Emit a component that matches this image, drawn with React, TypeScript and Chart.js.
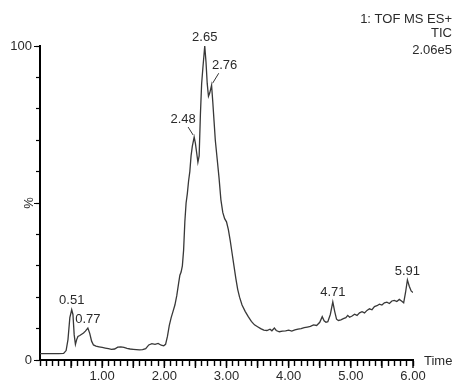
import React, { useEffect, useRef } from "react";
import { Chart, registerables } from "chart.js";

Chart.register(...registerables);

// Retention time (min) of each sample along the chromatogram trace
const retentionTimes = [
  0.0, 0.1, 0.2, 0.3, 0.38, 0.42, 0.45, 0.48, 0.51, 0.53, 0.55, 0.57, 0.59, 0.61, 0.64,
  0.67, 0.7, 0.73, 0.77, 0.8, 0.83, 0.86, 0.9, 0.95, 1.0, 1.05, 1.1, 1.15, 1.2, 1.25,
  1.3, 1.35, 1.4, 1.45, 1.5, 1.55, 1.6, 1.65, 1.7, 1.75, 1.8, 1.85, 1.9, 1.95, 1.99,
  2.02, 2.05, 2.08, 2.11, 2.14, 2.17, 2.2, 2.23, 2.25, 2.27, 2.29, 2.31, 2.33, 2.35, 2.37,
  2.39, 2.41, 2.43, 2.45, 2.48, 2.5, 2.52, 2.54, 2.56, 2.58, 2.6, 2.62, 2.65, 2.67, 2.69,
  2.71, 2.73, 2.76, 2.78, 2.8, 2.82, 2.85, 2.88, 2.91, 2.94, 2.97, 3.0, 3.03, 3.06, 3.09,
  3.12, 3.15, 3.18, 3.21, 3.25, 3.3, 3.35, 3.4, 3.45, 3.5, 3.55, 3.6, 3.65, 3.7, 3.73,
  3.77, 3.8, 3.85, 3.9, 3.95, 4.0, 4.05, 4.1, 4.15, 4.2, 4.25, 4.3, 4.35, 4.4, 4.45,
  4.5, 4.54, 4.57, 4.6, 4.63, 4.67, 4.71, 4.74, 4.77, 4.8, 4.84, 4.88, 4.92, 4.95, 4.98,
  5.02, 5.06, 5.1, 5.14, 5.18, 5.22, 5.26, 5.3, 5.34, 5.38, 5.42, 5.46, 5.5, 5.54, 5.58,
  5.62, 5.66, 5.7, 5.74, 5.78, 5.82, 5.85, 5.88, 5.91, 5.94, 5.97, 6.0,
];

// Relative TIC intensity (%) at each retention time
const intensities = [
  2.0, 2.0, 2.0, 2.0, 2.1, 3.0, 6.5, 13.5, 16.0, 14.5, 8.0, 5.0, 6.5, 7.5, 7.8,
  8.2, 8.6, 9.2, 10.2, 8.5, 6.0, 4.8, 4.4, 4.2, 4.0, 3.8, 3.6, 3.4, 3.5, 4.1,
  4.2, 4.0, 3.7, 3.5, 3.4, 3.3, 3.2, 3.3, 3.6, 4.8, 5.2, 5.0, 5.3, 4.7, 4.5,
  5.0, 7.5, 11.0, 13.5, 15.5, 17.5, 20.5, 24.5, 27.0, 28.0, 30.0, 35.0, 44.0, 50.0, 53.0,
  57.0, 60.0, 65.0, 68.0, 71.0, 69.0, 66.0, 63.0, 65.0, 78.0, 88.0, 93.0, 100.0, 95.0, 88.0,
  84.0, 85.0, 87.5, 82.0, 76.0, 70.0, 64.0, 58.0, 51.0, 47.0, 45.0, 44.0, 41.5, 38.0, 34.0,
  30.0, 26.0, 22.5, 20.0, 17.5, 15.5, 13.8, 12.3, 11.2, 10.6, 10.0, 9.5, 9.4, 9.8, 9.3,
  10.2, 9.4, 9.0, 9.2, 9.3, 9.5, 9.2, 9.6, 9.8, 10.0, 10.3, 10.5, 10.7, 11.2, 11.0,
  12.0, 13.8, 12.5, 12.0, 12.2, 14.5, 18.5, 15.5, 13.0, 12.6, 12.8, 13.2, 13.5, 14.2, 13.6,
  14.0, 14.6, 14.2, 15.0, 15.4, 15.0, 15.8, 16.3, 16.0, 17.0, 17.3, 17.8, 17.5, 18.2, 18.4,
  18.0, 18.8, 19.0, 18.6, 19.3, 18.7, 18.2, 21.5, 25.5, 23.5, 22.0, 21.5,
];

// Labelled peak apexes (retention time, min)
const peakTimes = [0.51, 0.77, 2.48, 2.65, 2.76, 4.71, 5.91];

// Axis values that carry a text label
const xLabelValues = [1, 2, 3, 4, 5, 6];
const yLabelValues = [0, 100];

const headerLines = ["1: TOF MS ES+", "TIC", "2.06e5"];
const xAxisName = "Time";
const yAxisName = "%";

const FONT = "Arial, 'Liberation Sans', sans-serif";
const TEXT_COLOR = "#2a2a2a";
const AXIS_COLOR = "#000";

// Peak labels sit just above the apex; crowded ones are moved aside with a leader line
const labelNudge: Record<string, [number, number]> = {
  "2.48": [-11, -18],
  "2.76": [13, -20],
};

const near = (a: number, b: number) => Math.abs(a - b) < 1e-6;

const decorPlugin = {
  id: "msDecor",
  afterDraw(chart: any) {
    const { ctx, chartArea, scales } = chart;
    const xs = scales.x;
    const ys = scales.y;
    const bottom = Math.round(chartArea.bottom);
    const left = Math.round(chartArea.left);

    // half-minute ticks run a little longer than the 0.1 min ones
    ctx.save();
    ctx.fillStyle = AXIS_COLOR;
    xs.ticks.forEach((t: any) => {
      const v = Number(t.value);
      if (v <= 0 || !near(v * 2, Math.round(v * 2))) return;
      const px = xs.getPixelForValue(v);
      ctx.fillRect(px - 0.7, bottom, 1.4, 8);
    });
    // 0 % and 50 % ticks reach further left
    [0, 50, 100].forEach((v) => {
      const py = Math.round(ys.getPixelForValue(v));
      ctx.fillRect(left - 6, py, 6, 1);
    });
    ctx.restore();

    ctx.save();
    ctx.fillStyle = TEXT_COLOR;
    ctx.font = `13px ${FONT}`;

    // axis names
    ctx.textAlign = "left";
    ctx.textBaseline = "middle";
    ctx.fillText(xAxisName, chartArea.right + 11, chartArea.bottom + 1);
    ctx.save();
    ctx.translate(chartArea.left - 11, ys.getPixelForValue(50));
    ctx.rotate(-Math.PI / 2);
    ctx.textAlign = "center";
    ctx.fillText(yAxisName, 0, 0);
    ctx.restore();

    // acquisition header, top right
    ctx.textAlign = "right";
    const headerY = [19, 33, 50];
    headerLines.forEach((line, i) => ctx.fillText(line, chart.width - 2, headerY[i]));

    // peak retention-time labels
    ctx.textAlign = "center";
    ctx.strokeStyle = "#333";
    ctx.lineWidth = 1;
    peakTimes.forEach((t) => {
      const idx = retentionTimes.findIndex((r) => near(r, t));
      if (idx < 0) return;
      const px = xs.getPixelForValue(t);
      const py = ys.getPixelForValue(intensities[idx]);
      const key = t.toFixed(2);
      const nudge = labelNudge[key];
      const [dx, dy] = nudge || [0, -9];
      ctx.fillText(key, px + dx, py + dy);
      if (nudge) {
        const sx = px + dx * 0.55;
        const sy = py + dy + 8;
        ctx.beginPath();
        ctx.moveTo(sx, sy);
        ctx.lineTo(px + Math.sign(dx) * 1, py - 2);
        ctx.stroke();
      }
    });

    ctx.restore();
  },
};

export default function App() {
  const canvasRef = useRef<HTMLCanvasElement | null>(null);

  useEffect(() => {
    if (!canvasRef.current) return;
    const points = retentionTimes.map((t, i) => ({ x: t, y: intensities[i] }));
    const chart = new Chart(canvasRef.current, {
      type: "line",
      data: {
        datasets: [
          {
            data: points,
            borderColor: "#383838",
            borderWidth: 1.3,
            pointRadius: 0,
            tension: 0,
            fill: false,
          },
        ],
      },
      options: {
        animation: false,
        responsive: false,
        devicePixelRatio: 1,
        layout: { padding: { left: 8, right: 41, top: 46, bottom: 0 } },
        plugins: {
          legend: { display: false },
          tooltip: { enabled: false },
        },
        scales: {
          x: {
            type: "linear",
            min: 0,
            max: 6,
            afterFit: (s: any) => {
              s.height = 25;
            },
            ticks: {
              stepSize: 0.1,
              autoSkip: false,
              maxRotation: 0,
              padding: 3,
              color: TEXT_COLOR,
              font: { family: FONT, size: 13 },
              callback: (v: any) => {
                const n = Number(v);
                return xLabelValues.some((l) => near(l, n)) ? n.toFixed(2) : "";
              },
            },
            grid: {
              drawOnChartArea: false,
              drawTicks: true,
              tickLength: 6,
              tickColor: AXIS_COLOR,
              tickWidth: 1.4,
            },
            border: { display: true, color: AXIS_COLOR, width: 2 },
          },
          y: {
            type: "linear",
            min: 0,
            max: 100,
            afterFit: (s: any) => {
              s.width = 32;
            },
            ticks: {
              stepSize: 10,
              autoSkip: false,
              padding: 4,
              color: TEXT_COLOR,
              font: { family: FONT, size: 13 },
              callback: (v: any) => {
                const n = Number(v);
                return yLabelValues.some((l) => near(l, n)) ? String(n) : "";
              },
            },
            grid: {
              drawOnChartArea: false,
              drawTicks: true,
              tickLength: 4,
              tickColor: AXIS_COLOR,
              tickWidth: 1.2,
            },
            border: { display: true, color: AXIS_COLOR, width: 2 },
          },
        },
      },
      plugins: [decorPlugin],
    });
    return () => chart.destroy();
  }, []);

  return (
    <div style={{ position: "absolute", left: 0, top: 0, width: 454, height: 385, background: "#fff" }}>
      <canvas ref={canvasRef} width={454} height={385} />
    </div>
  );
}
